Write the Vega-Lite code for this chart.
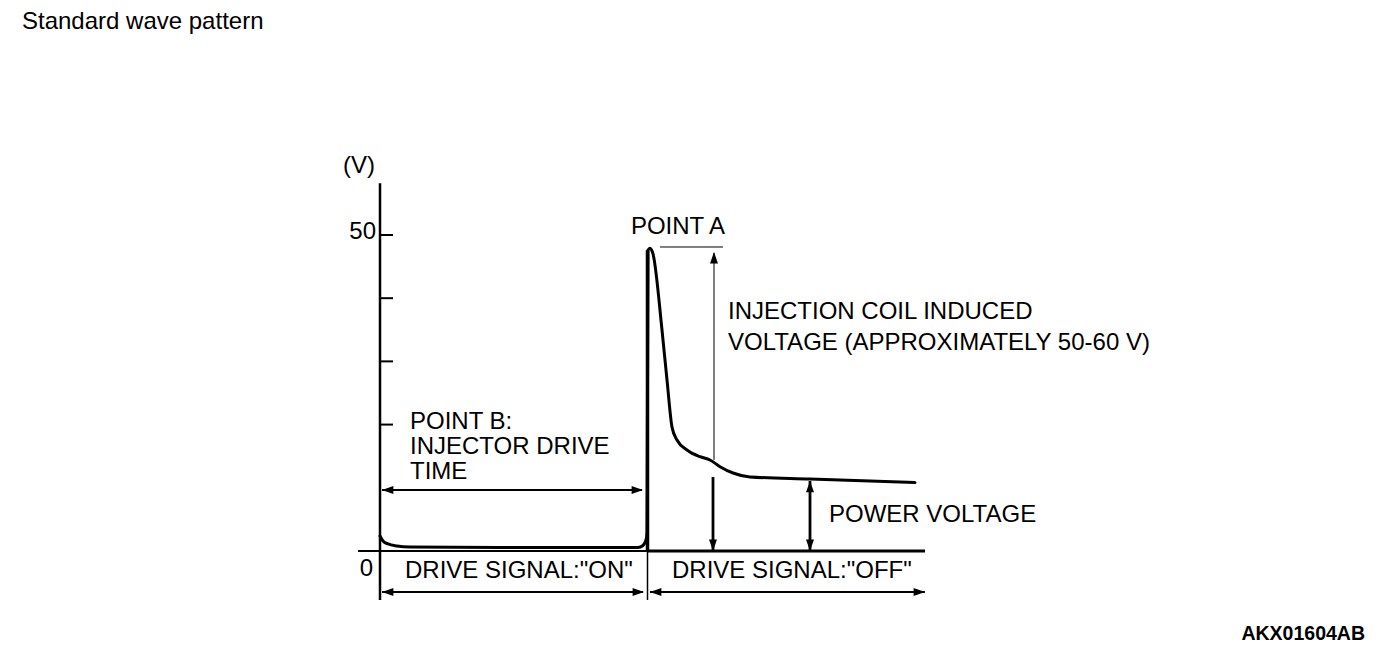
{
  "$schema": "https://vega.github.io/schema/vega-lite/v6.json",
  "width": 1392,
  "height": 660,
  "autosize": {"type": "none"},
  "padding": 0,
  "background": "white",
  "config": {"view": {"stroke": null}},
  "datasets": {
    "wave": [
      {"i": 0, "t": 0, "v": 2.37},
      {"i": 1, "t": 0.3, "v": 1.58},
      {"i": 2, "t": 0.8, "v": 1.11},
      {"i": 3, "t": 1.7, "v": 0.79},
      {"i": 4, "t": 3.0, "v": 0.63},
      {"i": 5, "t": 12.0, "v": 0.55},
      {"i": 6, "t": 25.8, "v": 0.55},
      {"i": 7, "t": 26.3, "v": 0.87},
      {"i": 8, "t": 26.6, "v": 1.74},
      {"i": 9, "t": 26.7, "v": 3.0},
      {"i": 10, "t": 26.8, "v": 47.6},
      {"i": 11, "t": 27.0, "v": 47.9},
      {"i": 12, "t": 27.3, "v": 47.0},
      {"i": 13, "t": 28.2, "v": 34.97},
      {"i": 14, "t": 28.7, "v": 27.06},
      {"i": 15, "t": 29.2, "v": 19.6},
      {"i": 16, "t": 29.7, "v": 17.56},
      {"i": 17, "t": 30.7, "v": 15.98},
      {"i": 18, "t": 32.0, "v": 14.92},
      {"i": 19, "t": 33.0, "v": 14.4},
      {"i": 20, "t": 34.0, "v": 13.34},
      {"i": 21, "t": 35.3, "v": 12.34},
      {"i": 22, "t": 37.0, "v": 11.71},
      {"i": 23, "t": 43.0, "v": 11.39},
      {"i": 24, "t": 53.5, "v": 10.84}
    ],
    "lines": [
      {"part": "axis", "t": 0, "t2": 0, "v": -7.75, "v2": 58.2},
      {"part": "tick", "t": 0, "t2": 1.3, "v": 50, "v2": 50},
      {"part": "tick", "t": 0, "t2": 1.3, "v": 40, "v2": 40},
      {"part": "tick", "t": 0, "t2": 1.3, "v": 30, "v2": 30},
      {"part": "tick", "t": 0, "t2": 1.3, "v": 20, "v2": 20},
      {"part": "baseOn", "t": -2.2, "t2": 26.7, "v": 0, "v2": 0},
      {"part": "baseOff", "t": 26.7, "t2": 54.5, "v": 0, "v2": 0},
      {"part": "spike", "t": 26.75, "t2": 26.75, "v": 0, "v2": 47.6},
      {"part": "divider", "t": 26.75, "t2": 26.75, "v": -7.75, "v2": 0},
      {"part": "dim", "t": 0.2, "t2": 26.2, "v": 9.65, "v2": 9.65},
      {"part": "dim", "t": 0.2, "t2": 26.3, "v": -6.49, "v2": -6.49},
      {"part": "dim", "t": 27.0, "t2": 54.5, "v": -6.49, "v2": -6.49},
      {"part": "thin", "t": 33.4, "t2": 33.4, "v": 14.4, "v2": 47.15},
      {"part": "thin", "t": 28.0, "t2": 34.3, "v": 48.1, "v2": 48.1},
      {"part": "heavy", "t": 33.3, "t2": 33.3, "v": 0, "v2": 11.7},
      {"part": "heavy", "t": 43.0, "t2": 43.0, "v": 0, "v2": 11.08}
    ],
    "heads": [
      {"t": 0.2, "v": 9.65, "dir": "left"},
      {"t": 26.3, "v": 9.65, "dir": "right"},
      {"t": 0.2, "v": -6.49, "dir": "left"},
      {"t": 26.4, "v": -6.49, "dir": "right"},
      {"t": 27.0, "v": -6.49, "dir": "left"},
      {"t": 54.5, "v": -6.49, "dir": "right"},
      {"t": 33.4, "v": 47.3, "dir": "up"},
      {"t": 33.3, "v": 0, "dir": "down"},
      {"t": 43.0, "v": 11.08, "dir": "up"},
      {"t": 43.0, "v": 0, "dir": "down"}
    ],
    "labels": [
      {"group": "title", "label": "Standard wave pattern", "t": -35.8, "v": 83.7},
      {"group": "center", "label": "(V)", "t": -2.1, "v": 60.9},
      {"group": "right", "label": "50", "t": -0.4, "v": 50.5},
      {"group": "right", "label": "0", "t": -0.7, "v": -2.85},
      {"group": "center", "label": "POINT A", "t": 29.8, "v": 51.3},
      {"group": "left", "label": "INJECTION COIL INDUCED", "t": 34.8, "v": 37.8},
      {"group": "left", "label": "VOLTAGE (APPROXIMATELY 50-60 V)", "t": 34.8, "v": 32.9},
      {"group": "left", "label": "POINT B:", "t": 3.0, "v": 20.4},
      {"group": "left", "label": "INJECTOR DRIVE", "t": 3.0, "v": 16.46},
      {"group": "left", "label": "TIME", "t": 3.0, "v": 12.5},
      {"group": "left", "label": "POWER VOLTAGE", "t": 44.9, "v": 5.7},
      {"group": "left", "label": "DRIVE SIGNAL:\"ON\"", "t": 2.5, "v": -3.16},
      {"group": "left", "label": "DRIVE SIGNAL:\"OFF\"", "t": 29.2, "v": -3.16},
      {"group": "code", "label": "AKX01604AB", "t": 98.5, "v": -13.1}
    ]
  },
  "encoding": {
    "x": {"field": "t", "type": "quantitative", "scale": {"domain": [-38, 101.2], "nice": false, "zero": false}, "axis": null},
    "y": {"field": "v", "type": "quantitative", "scale": {"domain": [-17.25, 87.18], "nice": false, "zero": false}, "axis": null}
  },
  "layer": [
    {"data": {"name": "lines"}, "transform": [{"filter": "datum.part === 'axis'"}], "mark": {"type": "rule", "color": "black", "strokeWidth": 2.5}, "encoding": {"x2": {"field": "t2"}, "y2": {"field": "v2"}}},
    {"data": {"name": "lines"}, "transform": [{"filter": "datum.part === 'tick' || datum.part === 'baseOn' || datum.part === 'dim'"}], "mark": {"type": "rule", "color": "black", "strokeWidth": 2}, "encoding": {"x2": {"field": "t2"}, "y2": {"field": "v2"}}},
    {"data": {"name": "lines"}, "transform": [{"filter": "datum.part === 'baseOff'"}], "mark": {"type": "rule", "color": "black", "strokeWidth": 3}, "encoding": {"x2": {"field": "t2"}, "y2": {"field": "v2"}}},
    {"data": {"name": "lines"}, "transform": [{"filter": "datum.part === 'spike'"}], "mark": {"type": "rule", "color": "black", "strokeWidth": 3.5}, "encoding": {"x2": {"field": "t2"}, "y2": {"field": "v2"}}},
    {"data": {"name": "lines"}, "transform": [{"filter": "datum.part === 'divider'"}], "mark": {"type": "rule", "color": "black", "strokeWidth": 1.5}, "encoding": {"x2": {"field": "t2"}, "y2": {"field": "v2"}}},
    {"data": {"name": "lines"}, "transform": [{"filter": "datum.part === 'thin'"}], "mark": {"type": "rule", "color": "black", "strokeWidth": 1}, "encoding": {"x2": {"field": "t2"}, "y2": {"field": "v2"}}},
    {"data": {"name": "lines"}, "transform": [{"filter": "datum.part === 'heavy'"}], "mark": {"type": "rule", "color": "black", "strokeWidth": 2.8}, "encoding": {"x2": {"field": "t2"}, "y2": {"field": "v2"}}},
    {"data": {"name": "wave"}, "mark": {"type": "line", "color": "black", "strokeWidth": 3, "strokeJoin": "round", "strokeCap": "round", "interpolate": "monotone"}, "encoding": {"order": {"field": "i", "type": "quantitative"}}},
    {"data": {"name": "heads"}, "mark": {"type": "point", "filled": true, "color": "black", "opacity": 1, "size": 130, "strokeWidth": 0},
     "encoding": {"shape": {"field": "dir", "type": "nominal", "scale": {"domain": ["up", "right", "down", "left"], "range": ["M0,0L-0.7,2L0.7,2Z", "M0,0L-2,-0.7L-2,0.7Z", "M0,0L-0.7,-2L0.7,-2Z", "M0,0L2,-0.7L2,0.7Z"]}, "legend": null}}},
    {"data": {"name": "labels"}, "transform": [{"filter": "datum.group === 'left'"}], "mark": {"type": "text", "align": "left", "baseline": "middle", "font": "Liberation Sans", "fontSize": 24, "color": "black"}, "encoding": {"text": {"field": "label"}}},
    {"data": {"name": "labels"}, "transform": [{"filter": "datum.group === 'center'"}], "mark": {"type": "text", "align": "center", "baseline": "middle", "font": "Liberation Sans", "fontSize": 24, "color": "black"}, "encoding": {"text": {"field": "label"}}},
    {"data": {"name": "labels"}, "transform": [{"filter": "datum.group === 'right'"}], "mark": {"type": "text", "align": "right", "baseline": "middle", "font": "Liberation Sans", "fontSize": 24, "color": "black"}, "encoding": {"text": {"field": "label"}}},
    {"data": {"name": "labels"}, "transform": [{"filter": "datum.group === 'title'"}], "mark": {"type": "text", "align": "left", "baseline": "middle", "font": "Liberation Sans", "fontSize": 24, "color": "black"}, "encoding": {"text": {"field": "label"}}},
    {"data": {"name": "labels"}, "transform": [{"filter": "datum.group === 'code'"}], "mark": {"type": "text", "align": "right", "baseline": "middle", "font": "Liberation Sans", "fontSize": 19.5, "fontWeight": "bold", "color": "black"}, "encoding": {"text": {"field": "label"}}}
  ]
}
